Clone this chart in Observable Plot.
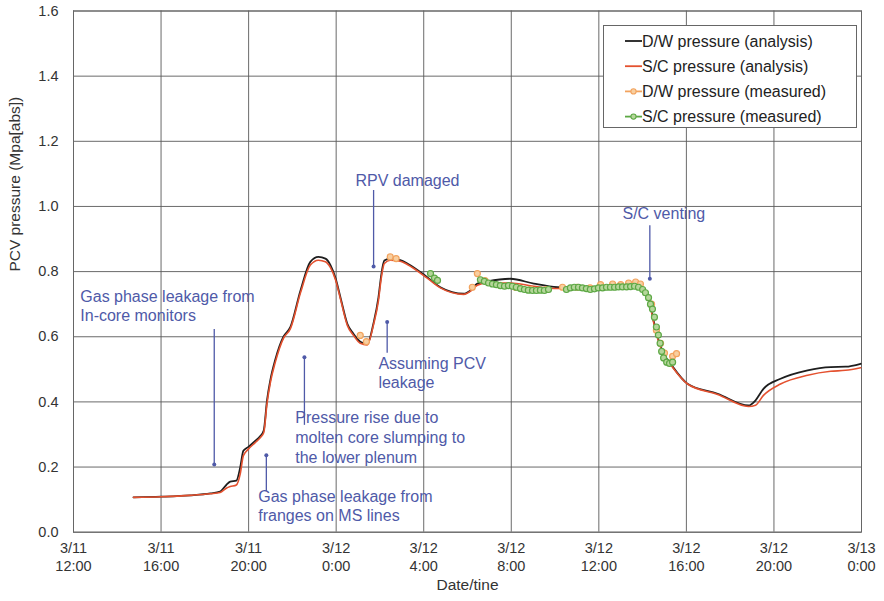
<!DOCTYPE html>
<html><head><meta charset="utf-8">
<script src="https://cdn.jsdelivr.net/npm/d3@7"></script>
<script src="https://cdn.jsdelivr.net/npm/@observablehq/plot@0.6"></script>
<style>body{margin:0;background:#fff}</style>
</head><body><div id="chart"></div>
<script>
// hours since 3/11 12:00
const xTicks = [0,4,8,12,16,20,24,28,32,36];
const xTickDates = ["3/11","3/11","3/11","3/12","3/12","3/12","3/12","3/12","3/12","3/13"];
const xTickTimes = ["12:00","16:00","20:00","0:00","4:00","8:00","12:00","16:00","20:00","0:00"];
const yTicks = [0,0.2,0.4,0.6,0.8,1.0,1.2,1.4,1.6];
const yTickLabels = ["0.0","0.2","0.4","0.6","0.8","1.0","1.2","1.4","1.6"];

const tAnalysis = [2.74,4.0,5.33,6.25,6.7,6.98,7.16,7.44,7.62,7.76,7.99,8.3,8.53,8.69,8.84,8.99,9.22,9.59,9.91,10.37,10.82,11.19,11.51,11.74,11.97,12.2,12.51,12.78,13.1,13.42,13.7,13.93,14.06,14.2,14.47,14.93,15.25,16.16,16.76,17.83,18.14,18.45,18.91,19.96,21.03,22.11,23.16,24.54,25.68,26.05,26.28,26.5,26.73,26.96,27.28,28.05,29.43,30.84,31.16,31.52,32.3,33.54,34.59,35.27,35.96];
const dwAnalysis = [0.107,0.109,0.113,0.119,0.125,0.145,0.155,0.158,0.2,0.25,0.262,0.28,0.295,0.312,0.405,0.466,0.53,0.6,0.63,0.742,0.83,0.845,0.84,0.82,0.78,0.72,0.64,0.61,0.585,0.578,0.64,0.72,0.79,0.834,0.84,0.835,0.825,0.783,0.752,0.732,0.742,0.763,0.770,0.778,0.763,0.752,0.75,0.752,0.755,0.745,0.72,0.65,0.589,0.548,0.517,0.456,0.425,0.389,0.405,0.44,0.471,0.497,0.507,0.508,0.517];
const scAnalysis = [0.107,0.109,0.113,0.118,0.122,0.135,0.14,0.145,0.18,0.235,0.255,0.275,0.29,0.305,0.395,0.458,0.522,0.595,0.625,0.735,0.82,0.835,0.83,0.812,0.775,0.715,0.635,0.605,0.58,0.575,0.635,0.71,0.78,0.825,0.835,0.832,0.822,0.78,0.75,0.73,0.74,0.758,0.765,0.765,0.755,0.748,0.748,0.75,0.752,0.742,0.715,0.645,0.585,0.545,0.514,0.455,0.423,0.386,0.39,0.42,0.455,0.482,0.494,0.497,0.505];

const tDwMeasured = [13.1,13.38,14.47,14.74,18.22,18.45,18.8,19.5,20.2,20.9,21.6,22.34,23.0,23.6,24.08,24.63,25.0,25.36,25.68,25.9,26.41,26.63,26.82,27.0,27.37,27.55];
const dwMeasured = [0.604,0.585,0.845,0.84,0.752,0.794,0.772,0.758,0.752,0.745,0.745,0.752,0.752,0.75,0.76,0.762,0.76,0.765,0.768,0.762,0.7,0.62,0.58,0.55,0.54,0.548];

const tScMeasured = [16.31,16.49,16.63,18.59,18.77,18.96,19.14,19.32,19.5,19.69,19.87,20.05,20.23,20.42,20.6,20.78,20.97,21.15,21.33,21.51,21.7,22.52,22.7,22.88,23.07,23.25,23.43,23.61,23.8,23.98,24.17,24.35,24.53,24.72,24.9,25.08,25.27,25.45,25.63,25.81,26.0,26.13,26.27,26.36,26.45,26.54,26.63,26.72,26.8,26.87,26.96,27.1,27.23,27.37];
const scMeasured = [0.794,0.78,0.773,0.775,0.77,0.765,0.762,0.76,0.757,0.755,0.757,0.755,0.752,0.748,0.745,0.743,0.742,0.742,0.743,0.742,0.745,0.745,0.75,0.752,0.752,0.75,0.748,0.745,0.747,0.75,0.75,0.752,0.752,0.752,0.753,0.753,0.753,0.754,0.755,0.752,0.745,0.735,0.72,0.7,0.685,0.66,0.63,0.605,0.58,0.555,0.535,0.522,0.518,0.522];

const annTexts = ["Gas phase leakage from\nIn-core monitors","Pressure rise due to\nmolten core slumping to\nthe lower plenum","Gas phase leakage from\nfranges on MS lines","RPV damaged","Assuming PCV\nleakage","S/C venting"];
const annX = [0.31,10.13,8.44,12.88,13.93,25.08];
const annY = [0.696,0.292,0.082,1.083,0.491,0.979];
const annLineHeight = [1.15,1.25,1.15,1.2,1.18,1.2];
const arrowX = [6.43,10.55,8.81,13.71,14.33,26.33];
const arrowFrom = [0.622,0.328,0.125,1.049,0.549,0.941];
const arrowTo = [0.208,0.537,0.236,0.816,0.645,0.778];

const legendLabels = ["D/W pressure (analysis)","S/C pressure (analysis)","D/W pressure (measured)","S/C pressure (measured)"];

const C_DW = "#1e1e1e", C_SC = "#e4512f", C_DWM = "#f2a35e", C_SCM = "#5da845", C_ANN = "#4f5aa8";

const analysis = tAnalysis.map((t,i)=>({t, dw: dwAnalysis[i], sc: scAnalysis[i]}));
const dwM = tDwMeasured.map((t,i)=>({t, v: dwMeasured[i]}));
const scM = tScMeasured.map((t,i)=>({t, v: scMeasured[i]}));
const anns = annTexts.map((s,i)=>({s, x: annX[i], y: annY[i]}));
const arrows = arrowX.map((x,i)=>({x, y1: arrowFrom[i], y2: arrowTo[i]}));

const font = "'Liberation Sans', Arial, Helvetica, sans-serif";

const marks = [
  Plot.gridX(xTicks, {stroke:"#5a5a5a", strokeOpacity:0.9}),
  Plot.gridY(yTicks, {stroke:"#5a5a5a", strokeOpacity:0.9}),
  Plot.frame({stroke:"#666"}),
  Plot.text(yTicks, {x:0, y:d=>d, text:(d,i)=>yTickLabels[i], textAnchor:"end", dx:-15, fontSize:14.5, fill:"#333"}),
  Plot.text(xTicks, {x:d=>d, y:0, text:(d,i)=>xTickDates[i], dy:16.5, fontSize:14.5, fill:"#333"}),
  Plot.text(xTicks, {x:d=>d, y:0, text:(d,i)=>xTickTimes[i], dy:34, fontSize:14.5, fill:"#333"}),
  Plot.text(["Date/tine"], {frameAnchor:"bottom", dy:57.5, text:d=>d, fontSize:15.5, fill:"#333"}),
  Plot.text(["PCV pressure (Mpa[abs])"], {frameAnchor:"left", dx:-58, rotate:-90, text:d=>d, fontSize:15.5, fill:"#333"}),
  Plot.ruleX(arrows, {x:"x", y1:"y1", y2:"y2", stroke:C_ANN, strokeWidth:1.3}),
  Plot.dot(arrows, {x:"x", y:"y2", r:2, fill:C_ANN}),
  ...anns.map((a,i)=>Plot.text([a], {x:"x", y:"y", text:"s", textAnchor:"start", lineAnchor:"middle", fontSize:16, lineHeight:annLineHeight[i], fill:C_ANN})),
  Plot.line(analysis, {x:"t", y:"dw", stroke:C_DW, strokeWidth:1.8, curve:"monotone-x"}),
  Plot.line(analysis, {x:"t", y:"sc", stroke:C_SC, strokeWidth:1.6, curve:"monotone-x"}),
  Plot.dot(dwM, {x:"t", y:"v", r:3, stroke:C_DWM, fill:"#f8cfa0", strokeWidth:1.2}),
  Plot.dot(scM, {x:"t", y:"v", r:3, stroke:C_SCM, fill:"#b5d69a", strokeWidth:1.2})
];

const svg = Plot.plot({
  width:884, height:601,
  marginLeft:73, marginRight:23, marginTop:10.5, marginBottom:69.3,
  x:{domain:[0,36], axis:null},
  y:{domain:[0,1.6], axis:null},
  style:{fontFamily:font, background:"white", color:"#333", overflow:"visible"},
  marks
});

// legend
const lg = d3.select(svg).append("g").attr("font-family", font).attr("font-size", 16).attr("text-anchor","start");
lg.append("rect").attr("x",603.5).attr("y",25.5).attr("width",253).attr("height",102).attr("fill","white").attr("stroke","#666");
const legColors = [C_DW, C_SC, C_DWM, C_SCM];
const legFills = [null, null, "#f8cfa0", "#b5d69a"];
legendLabels.forEach((lab,i)=>{
  const cy = 41 + i*25.2;
  lg.append("line").attr("x1",625).attr("x2",642).attr("y1",cy).attr("y2",cy).attr("stroke",legColors[i]).attr("stroke-width",1.8);
  if (legFills[i]) lg.append("circle").attr("cx",633.5).attr("cy",cy).attr("r",2.6).attr("fill",legFills[i]).attr("stroke",legColors[i]).attr("stroke-width",1.1);
  lg.append("text").attr("x",642).attr("y",cy).attr("dy","0.35em").attr("text-anchor","start").attr("fill","#222").text(lab);
});

document.getElementById("chart").appendChild(svg);
</script>
</body></html>
